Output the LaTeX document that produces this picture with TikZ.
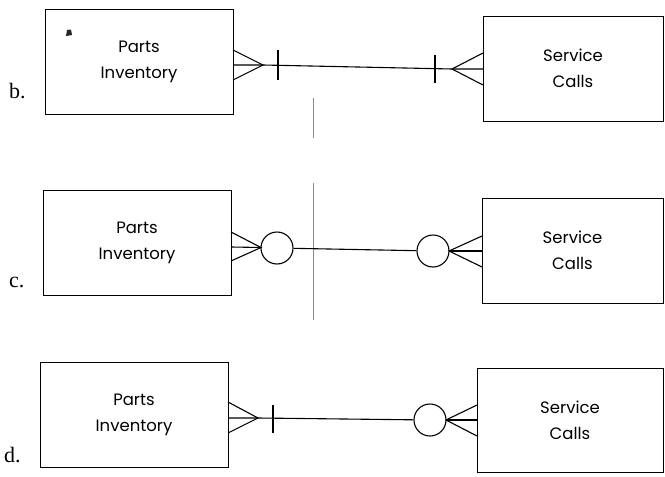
\documentclass[tikz,border=0pt]{standalone}
\usepackage{fontspec}
\setmainfont{Liberation Serif}
\newfontfamily\geo{Poppins}
\begin{document}
\begin{tikzpicture}[x=1pt,y=-1pt,
  entity/.style={draw, line width=1pt, rectangle, inner sep=0pt, minimum height=105pt, align=center, font=\geo\fontsize{16.5}{26}\selectfont},
  rel/.style={line width=1.1pt},
  opt/.style={draw, circle, line width=1.1pt, minimum size=32pt, inner sep=0pt},
  lab/.style={font=\fontsize{22}{24}\selectfont, anchor=base west, inner sep=0pt},
  artifact/.style={draw=black!45, line width=0.5pt}]
\useasboundingbox (0,0) rectangle (665,477);
\fill[white] (0,0) rectangle (665,477);
% scan artifacts
\draw[artifact] (313,98) -- (313,138);
\draw[artifact] (313,183) -- (313,320);
\fill[black!85] (67,30) -- (71,29.5) -- (72,35) -- (66,36) -- cycle;

% ---- row b ----
\node[lab] (lb) at (9,98) {b.};
\node[entity, minimum width=188pt] (bP) at (139,61.5) {Parts\\Inventory};
\node[entity, minimum width=180pt] (bS) at (573,68.5) {Service\\Calls};
\coordinate (bLe) at (233,65); \coordinate (bLm) at (263,65);
\coordinate (bRe) at (483,69); \coordinate (bRm) at (452,69);
\draw[rel] (bLe) -- (bLm) -- (bRm) -- (bRe);
\draw[rel] (233,50) -- (bLm) -- (233,80);
\draw[rel] (483,53) -- (bRm) -- (483,85);
\draw[rel] (278,50) -- (278,80);
\draw[rel] (435,55) -- (435,83);

% ---- row c ----
\node[lab] (lc) at (9,287) {c.};
\node[entity, minimum width=188pt] (cP) at (137,242.5) {Parts\\Inventory};
\node[entity, minimum width=181pt] (cS) at (572.5,250.5) {Service\\Calls};
\node[opt] (cO1) at (277,248) {};
\node[opt] (cO2) at (433,251) {};
\coordinate (cLe) at (231,247); \coordinate (cLm) at (261,247.5);
\coordinate (cRe) at (482,251); \coordinate (cRm) at (449,251);
\draw[rel] (cLe) -- (cLm);
\draw[rel] (231,232) -- (cLm) -- (231,261);
\draw[rel] (cO1) -- (cO2);
\draw[rel] (cRm) -- (cRe);
\draw[rel] (482,236) -- (cRm) -- (482,267);

% ---- row d ----
\node[lab] (ld) at (4,462) {d.};
\node[entity, minimum width=188pt] (dP) at (134,414.5) {Parts\\Inventory};
\node[entity, minimum width=186pt, minimum height=104pt] (dS) at (570,420) {Service\\Calls};
\node[opt] (dO) at (430,420) {};
\coordinate (dLe) at (228,418); \coordinate (dLm) at (258,418);
\coordinate (dRe) at (477,420); \coordinate (dRm) at (446,420);
\draw[rel] (dLe) -- (dLm) -- (dO);
\draw[rel] (228,402) -- (dLm) -- (228,433);
\draw[rel] (273,405) -- (273,433);
\draw[rel] (dRm) -- (dRe);
\draw[rel] (477,405) -- (dRm) -- (477,436);
\end{tikzpicture}
\end{document}
